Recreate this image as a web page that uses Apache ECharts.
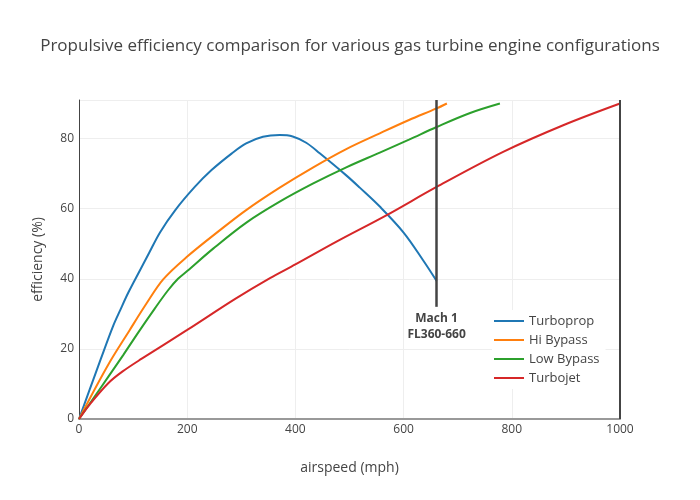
<!DOCTYPE html>
<html>
<head>
<meta charset="utf-8">
<script src="https://cdn.jsdelivr.net/npm/echarts@6/dist/echarts.min.js"></script>
<style>
  html, body { margin: 0; padding: 0; background: #fff; }
  #chart { width: 700px; height: 500px; }
</style>
</head>
<body>
<div id="chart"></div>
<script>
// airspeed (mph) / efficiency (%)
const turbopropX = [0, 20, 40, 63, 76, 91, 113, 130, 150, 178, 214, 245, 282, 309, 340, 371, 395, 420, 445, 494, 519, 556, 600, 636, 661];
const turbopropY = [0, 8.5, 17, 26.5, 31, 36, 42.5, 47.5, 53.3, 59.6, 66.2, 71, 75.7, 78.6, 80.5, 81, 80.6, 78.8, 75.8, 69.5, 66, 60.6, 53.2, 45.3, 39.4];

const hiBypassX = [0, 54, 93, 125, 156, 199, 260, 309, 371, 433, 494, 556, 610, 661, 680];
const hiBypassY = [0, 15.5, 25.2, 33, 39.9, 46.2, 53.8, 59.6, 66, 71.8, 77, 81.5, 85.3, 88.6, 90];

const lowBypassX = [0, 27, 54, 82, 110, 140, 165, 183, 200, 248, 310, 371, 433, 494, 556, 610, 661, 723, 778];
const lowBypassY = [0, 6, 12, 18.3, 24.8, 31.5, 36.8, 40, 42.2, 48.6, 56.1, 62, 67.2, 71.8, 76, 79.7, 83.3, 87.3, 90];

const turbojetX = [0, 20, 54, 80, 116, 200, 288, 353, 400, 476, 568, 661, 784, 895, 1000];
const turbojetY = [0, 4.2, 10.2, 13.5, 17.2, 25.4, 34.2, 40.2, 44.1, 50.6, 58.1, 66.2, 76.2, 83.8, 90];

const machSpeed = 661;
const machRange = [32, 91];

const zip = (xs, ys) => xs.map((x, i) => [x, ys[i]]);
const font = '"Open Sans", sans-serif';

const chart = echarts.init(document.getElementById('chart'), null, { renderer: 'canvas' });

function lineSeries(name, color, xs, ys, extra) {
  return Object.assign({
    name: name,
    type: 'line',
    data: zip(xs, ys),
    smooth: 0.35,
    symbol: 'none',
    lineStyle: { color: color, width: 2 },
    itemStyle: { color: color },
    z: 3
  }, extra || {});
}

chart.setOption({
  animation: false,
  textStyle: { fontFamily: font },
  title: {
    text: 'Propulsive efficiency comparison for various gas turbine engine configurations',
    left: 'center',
    top: 33,
    textStyle: { fontFamily: font, fontSize: 17, fontWeight: 'normal', color: '#444' }
  },
  legend: {
    orient: 'vertical',
    left: 492,
    top: 310,
    padding: [4, 6, 4, 2],
    icon: 'rect',
    itemWidth: 30,
    itemHeight: 2,
    itemGap: 5,
    backgroundColor: '#fff',
    textStyle: { fontFamily: font, fontSize: 13, color: '#444', lineHeight: 14 },
    data: ['Turboprop', 'Hi Bypass', 'Low Bypass', 'Turbojet']
  },
  grid: { left: 79, right: 80, top: 100, bottom: 81 },
  xAxis: {
    type: 'value',
    min: 0,
    max: 1000,
    interval: 200,
    name: 'airspeed (mph)',
    nameLocation: 'middle',
    nameGap: 42,
    nameTextStyle: { fontFamily: font, fontSize: 14, color: '#444' },
    axisLine: { show: true, lineStyle: { color: '#999', width: 2 } },
    axisTick: { show: false },
    axisLabel: { fontFamily: font, fontSize: 12, color: '#444', margin: 5, formatter: v => String(v) },
    splitLine: { show: true, lineStyle: { color: '#eee', width: 1 } }
  },
  yAxis: {
    type: 'value',
    min: 0,
    max: 91,
    interval: 20,
    name: 'efficiency (%)',
    nameLocation: 'middle',
    nameGap: 34,
    nameTextStyle: { fontFamily: font, fontSize: 14, color: '#444' },
    axisLine: { show: true, lineStyle: { color: '#444', width: 1 } },
    axisTick: { show: false },
    axisLabel: { fontFamily: font, fontSize: 12, color: '#444', margin: 5, showMaxLabel: false },
    splitLine: { show: true, lineStyle: { color: '#eee', width: 1 } }
  },
  series: [
    lineSeries('Turboprop', '#1f77b4', turbopropX, turbopropY, {
      markLine: {
        silent: true,
        symbol: 'none',
        animation: false,
        lineStyle: { color: '#444', width: 2.5, type: 'solid' },
        label: {
          show: true,
          position: 'start',
          formatter: 'Mach 1\nFL360-660',
          fontFamily: font,
          fontSize: 12,
          fontWeight: 'bold',
          color: '#444',
          lineHeight: 16,
          distance: 4
        },
        data: [[{ coord: [machSpeed, machRange[0]] }, { coord: [machSpeed, machRange[1]] }]]
      }
    }),
    lineSeries('Hi Bypass', '#ff7f0e', hiBypassX, hiBypassY),
    lineSeries('Low Bypass', '#2ca02c', lowBypassX, lowBypassY),
    lineSeries('Turbojet', '#d62728', turbojetX, turbojetY, {
      markLine: {
        silent: true,
        symbol: 'none',
        animation: false,
        lineStyle: { color: '#444', width: 2, type: 'solid' },
        label: { show: false },
        data: [{ xAxis: 1000 }]
      }
    })
  ]
});
</script>
</body>
</html>
